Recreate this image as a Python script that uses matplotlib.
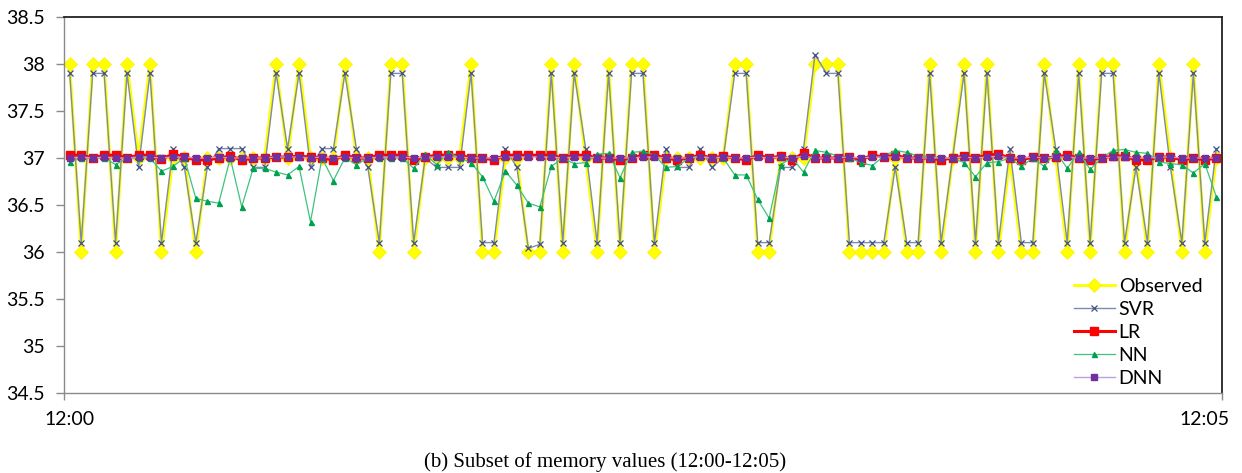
import numpy as np
import matplotlib
matplotlib.use('Agg')
import matplotlib.pyplot as plt
from matplotlib.transforms import ScaledTranslation

# ---------- Data: one sample per slot, 12:00 -> 12:05 ----------
observed = [38, 36, 38, 38, 36, 38, 37, 38, 36, 37,
            37, 36, 37, 37, 37, 37, 37, 37, 38, 37,
            38, 37, 37, 37, 38, 37, 37, 36, 38, 38,
            36, 37, 37, 37, 37, 38, 36, 36, 37, 37,
            36, 36, 38, 36, 38, 37, 36, 38, 36, 38,
            38, 36, 37, 37, 37, 37, 37, 37, 38, 38,
            36, 36, 37, 37, 37, 38, 38, 38, 36, 36,
            36, 36, 37, 36, 36, 38, 36, 37, 38, 36,
            38, 36, 37, 36, 36, 38, 37, 36, 38, 36,
            38, 38, 36, 37, 36, 38, 37, 36, 38, 36,
            37]

svr = [37.9, 36.1, 37.9, 37.9, 36.1, 37.9, 36.9, 37.9, 36.1, 37.1,
       36.9, 36.1, 36.9, 37.1, 37.1, 37.1, 36.9, 36.9, 37.9, 37.1,
       37.9, 36.9, 37.1, 37.1, 37.9, 37.1, 36.9, 36.1, 37.9, 37.9,
       36.1, 37.0, 36.9, 36.9, 36.9, 37.9, 36.1, 36.1, 37.1, 36.9,
       36.04, 36.08, 37.9, 36.1, 37.9, 37.1, 36.1, 37.9, 36.1, 37.9,
       37.9, 36.1, 37.1, 36.9, 36.9, 37.1, 36.9, 37.0, 37.9, 37.9,
       36.1, 36.1, 36.9, 36.9, 37.1, 38.1, 37.9, 37.9, 36.1, 36.1,
       36.1, 36.1, 36.9, 36.1, 36.1, 37.9, 36.1, 37.0, 37.9, 36.1,
       37.9, 36.1, 37.1, 36.1, 36.1, 37.9, 37.1, 36.1, 37.9, 36.1,
       37.9, 37.9, 36.1, 36.9, 36.1, 37.9, 36.9, 36.1, 37.9, 36.1,
       37.1]

lr = [37.03, 37.03, 37.0, 37.03, 37.03, 37.0, 37.03, 37.03, 36.99, 37.04,
      37.01, 36.98, 36.98, 37.0, 37.02, 36.98, 37.0, 37.0, 37.01, 37.01,
      37.02, 37.01, 37.0, 36.98, 37.03, 37.0, 37.0, 37.03, 37.03, 37.03,
      36.98, 37.01, 37.03, 37.03, 37.03, 37.0, 37.0, 36.98, 37.03, 37.03,
      37.03, 37.03, 37.03, 37.0, 37.03, 37.03, 37.0, 37.0, 36.98, 37.0,
      37.03, 37.03, 37.0, 36.98, 37.0, 37.03, 37.0, 37.02, 37.0, 36.98,
      37.03, 37.0, 37.02, 36.98, 37.05, 37.0, 37.0, 37.0, 37.01, 36.98,
      37.03, 37.01, 37.03, 37.0, 37.0, 37.0, 36.98, 37.0, 37.02, 37.0,
      37.03, 37.04, 37.0, 36.98, 37.01, 37.0, 37.01, 37.03, 37.0, 36.98,
      37.0, 37.02, 37.02, 36.98, 36.98, 37.01, 37.01, 36.98, 37.0, 36.98,
      37.0]

nn = [36.96, 37.0, 37.0, 37.0, 36.93, 37.0, 37.0, 37.0, 36.86, 36.91,
      37.0, 36.57, 36.54, 36.52, 37.0, 36.48, 36.89, 36.89, 36.85, 36.82,
      36.91, 36.32, 37.0, 36.76, 37.0, 36.93, 37.0, 37.0, 37.0, 37.0,
      36.89, 37.04, 36.93, 37.06, 37.0, 36.95, 36.8, 36.54, 36.86, 36.71,
      36.52, 36.48, 36.91, 37.0, 36.94, 36.95, 37.04, 37.05, 36.79, 37.06,
      37.07, 37.03, 36.9, 36.91, 37.0, 37.02, 37.0, 37.0, 36.82, 36.82,
      36.56, 36.36, 36.93, 37.0, 36.85, 37.08, 37.06, 37.02, 37.0, 36.95,
      36.92, 37.02, 37.08, 37.06, 37.02, 37.02, 37.0, 37.0, 36.95, 36.8,
      36.95, 36.96, 37.0, 36.91, 37.0, 36.91, 37.07, 36.89, 37.06, 36.88,
      37.0, 37.08, 37.09, 37.06, 37.05, 36.96, 36.94, 36.93, 36.84, 36.94,
      36.59]

dnn = [37.0, 37.01, 37.0, 37.01, 37.0, 37.0, 37.01, 37.01, 37.0, 37.01,
       37.01, 37.0, 37.0, 37.01, 37.0, 37.0, 37.0, 37.0, 37.01, 37.01,
       37.01, 37.0, 37.01, 37.0, 37.01, 37.0, 37.0, 37.01, 37.01, 37.01,
       37.0, 37.01, 37.01, 37.01, 37.01, 37.0, 37.0, 37.0, 37.01, 37.01,
       37.01, 37.01, 37.01, 37.0, 37.01, 37.01, 37.0, 37.0, 37.0, 37.0,
       37.01, 37.01, 37.0, 37.0, 37.0, 37.01, 37.0, 37.01, 37.0, 37.0,
       37.01, 37.0, 37.01, 37.0, 37.02, 37.0, 37.0, 37.0, 37.01, 37.0,
       37.01, 37.01, 37.01, 37.0, 37.0, 37.0, 37.0, 37.0, 37.01, 37.0,
       37.01, 37.02, 37.0, 37.0, 37.01, 37.0, 37.01, 37.01, 37.0, 37.0,
       37.0, 37.01, 37.01, 37.0, 37.0, 37.01, 37.01, 37.0, 37.0, 37.0,
       37.0]

time_labels = ['12:00', '12:05']
y_ticks = [34.5, 35, 35.5, 36, 36.5, 37, 37.5, 38, 38.5]

x = np.arange(len(observed))

# ---------- Figure ----------
plt.rcParams['font.family'] = ['Lato', 'DejaVu Sans']
fig = plt.figure(figsize=(12.42, 4.73), dpi=100)
ax = fig.add_axes([64 / 1242, 80 / 473, 1158 / 1242, 376 / 473])

ax.plot(x, observed, color='#FFFF00', lw=2.1, marker='D', ms=6.8,
        mfc='#FFFF00', mec='#FFEE00', mew=0.5, label='Observed')
ax.plot(x, svr, color='#7C8CAE', lw=1.0, marker='x', ms=4, mew=0.9,
        mec='#3F4F86', label='SVR')
ax.plot(x, lr, color='#FF0000', lw=2.2, marker='s', ms=5.8,
        mfc='#FF0000', mec='#FF0000', label='LR')
ax.plot(x, nn, color='#3CC47E', lw=0.9, marker='^', ms=3.6,
        mfc='#00A050', mec='#00A050', label='NN')
ax.plot(x, dnn, color='#B9A3DC', lw=1.0, marker='s', ms=4.2,
        mfc='#7030A0', mec='#7030A0', label='DNN')

# ---------- Axes ----------
ax.set_xlim(-0.5, len(observed) - 0.5)
ax.set_ylim(34.5, 38.5)
ax.set_yticks(y_ticks)
ax.set_yticklabels([f'{v:g}' for v in y_ticks])
ax.set_xticks([0, len(observed) - 1])
ax.set_xticklabels(time_labels)
ax.set_xticks([-0.5, len(observed) - 0.5], minor=True)

ax.tick_params(axis='y', length=6, width=1, color='#8A8A8A', pad=8,
               labelsize=14)
ax.tick_params(axis='x', which='major', length=0, pad=13, labelsize=14)
ax.tick_params(axis='x', which='minor', length=5, width=1, color='#8A8A8A')

# last time label sits a bit inside the right edge
lbl = ax.get_xticklabels()[-1]
lbl.set_transform(lbl.get_transform() + ScaledTranslation(-12 / 100, 0, fig.dpi_scale_trans))

for side in ['left', 'bottom']:
    ax.spines[side].set_color('#8A8A8A')
    ax.spines[side].set_linewidth(1.0)
for side in ['top', 'right']:
    ax.spines[side].set_color('#222222')
    ax.spines[side].set_linewidth(1.3)

ax.legend(loc='upper left', bbox_to_anchor=((1074 - 64) / 1158, (393 - 278) / 376),
          frameon=False, borderaxespad=0, borderpad=0, handlelength=2.1,
          handletextpad=0.2, labelspacing=0.31, fontsize=14)

fig.text(0.4875, 0.023, '(b) Subset of memory values (12:00-12:05)',
         ha='center', va='center', fontsize=15, family='Liberation Serif')

fig.savefig('out.png', dpi=100)
